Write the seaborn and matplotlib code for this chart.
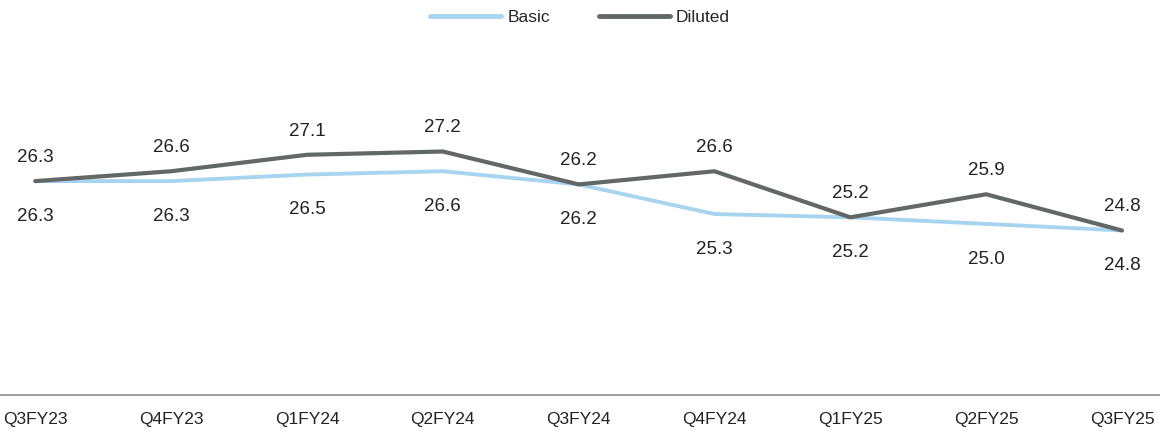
import numpy as np
import pandas as pd
import seaborn as sns
import matplotlib.pyplot as plt
from matplotlib.lines import Line2D

# data
quarters = ["Q3FY23", "Q4FY23", "Q1FY24", "Q2FY24", "Q3FY24", "Q4FY24", "Q1FY25", "Q2FY25", "Q3FY25"]
basic = [26.3, 26.3, 26.5, 26.6, 26.2, 25.3, 25.2, 25.0, 24.8]
diluted = [26.3, 26.6, 27.1, 27.2, 26.2, 26.6, 25.2, 25.9, 24.8]

df = pd.DataFrame({
    "quarter": quarters * 2,
    "value": basic + diluted,
    "series": ["Basic"] * len(quarters) + ["Diluted"] * len(quarters),
})

sns.set_theme(style="white")
plt.rcParams['font.family'] = ['Liberation Sans', 'DejaVu Sans']

colors = {"Basic": "#a9d4ef", "Diluted": "#636866"}

fig = plt.figure(figsize=(11.6, 4.32), dpi=100)
ax = fig.add_axes([0.0, 0.0856, 1.0, 0.777])

sns.lineplot(data=df, x="quarter", y="value", hue="series", hue_order=["Basic", "Diluted"],
             palette=colors, ax=ax, sort=False, legend=False)
ax.lines[0].set_linewidth(2.8)
ax.lines[1].set_linewidth(3.0)

# value labels: diluted above, basic below
for i, (b, d) in enumerate(zip(basic, diluted)):
    ax.annotate(f"{d:.1f}", (i, d), xytext=(0, 17), textcoords="offset points",
                ha="center", va="center", fontsize=13.5, color="#222222")
    ax.annotate(f"{b:.1f}", (i, b), xytext=(0, -25.5), textcoords="offset points",
                ha="center", va="center", fontsize=13.5, color="#222222")

ax.set_xlim(-0.26, 8.28)
ax.set_ylim(19.8, 30.0)
ax.set_xlabel("")
ax.set_ylabel("")
ax.set_yticks([])
ax.tick_params(axis="x", length=0, labelsize=12.5, pad=12, colors="#222222")

for s in ["top", "right", "left"]:
    ax.spines[s].set_visible(False)
ax.spines["bottom"].set_color("#8c8c8c")
ax.spines["bottom"].set_linewidth(1.2)

handles = [Line2D([], [], color=colors["Basic"], lw=3.5),
           Line2D([], [], color=colors["Diluted"], lw=3.5)]
fig.legend(handles, ["Basic", "Diluted"], loc="center", bbox_to_anchor=(0.5, 0.96),
           ncol=2, frameon=False, fontsize=12.5, handlelength=4.1, columnspacing=2.8,
           handletextpad=0.35)

fig.savefig("out.png", dpi=100)
